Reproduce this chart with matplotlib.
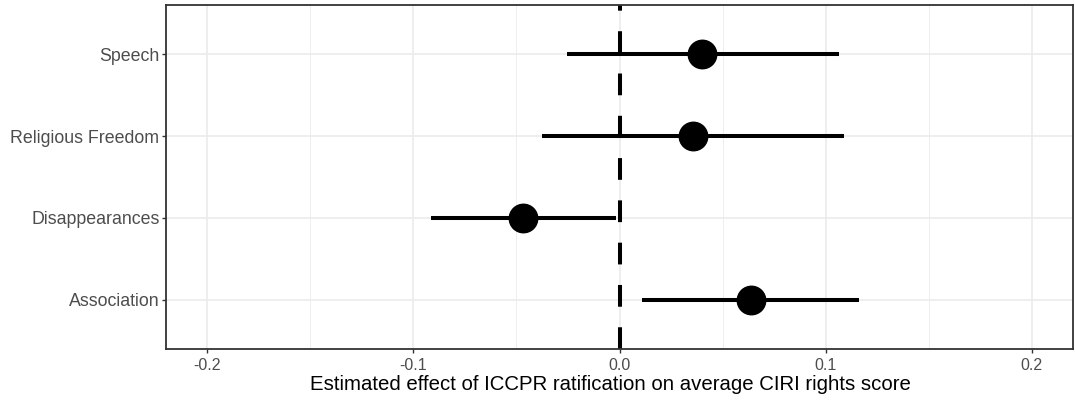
import matplotlib
matplotlib.use("Agg")
import matplotlib.pyplot as plt
from matplotlib.ticker import MultipleLocator

plt.rcParams['font.family'] = ['Liberation Sans', 'DejaVu Sans']

# data (bottom to top)
categories = ["Association", "Disappearances", "Religious Freedom", "Speech"]
estimates = [0.0636, -0.0467, 0.0356, 0.0402]
ci_low = [0.0109, -0.0916, -0.0374, -0.0256]
ci_high = [0.1162, -0.0019, 0.1088, 0.1064]
x_ticks = [-0.2, -0.1, 0.0, 0.1, 0.2]
x_labels = ["-0.2", "-0.1", "0.0", "0.1", "0.2"]

fig = plt.figure(figsize=(10.75, 4.04), dpi=100)
ax = fig.add_axes([166 / 1075, 1 - 349 / 404, (1073 - 166) / 1075, (349 - 5) / 404])

ypos = list(range(1, len(categories) + 1))

# reference line at zero
ax.axvline(0, color="black", lw=2.9, ls=(0, (5.4, 5.1)), zorder=2)
ax.hlines(ypos, ci_low, ci_high, color="black", lw=2.9, zorder=3)
ax.plot(estimates, ypos, "o", color="black", ms=20.5, zorder=4)

ax.set_xlim(-0.22, 0.22)
ax.set_ylim(0.4, 4.6)
ax.set_xticks(x_ticks)
ax.set_xticklabels(x_labels)
ax.xaxis.set_minor_locator(MultipleLocator(0.05))
ax.set_yticks(ypos)
ax.set_yticklabels(categories)

ax.grid(which="major", color="#EBEBEB", lw=1.2, zorder=0)
ax.grid(which="minor", axis="x", color="#EBEBEB", lw=0.6, zorder=0)
ax.set_axisbelow(True)

for s in ax.spines.values():
    s.set_color("#333333")
    s.set_linewidth(1.3)

ax.tick_params(which="major", length=3.2, width=1.0, color="#333333",
               labelcolor="#4D4D4D", pad=2)
ax.tick_params(axis="y", labelsize=12.8, pad=1.5)
ax.tick_params(axis="x", labelsize=11.5, pad=3)
ax.tick_params(which="minor", length=0)

ax.set_xlabel("Estimated effect of ICCPR ratification on average CIRI rights score",
              fontsize=14.7, color="black", labelpad=2)
ax.xaxis.label.set_x(0.4895)

fig.savefig("out.png", dpi=100)
